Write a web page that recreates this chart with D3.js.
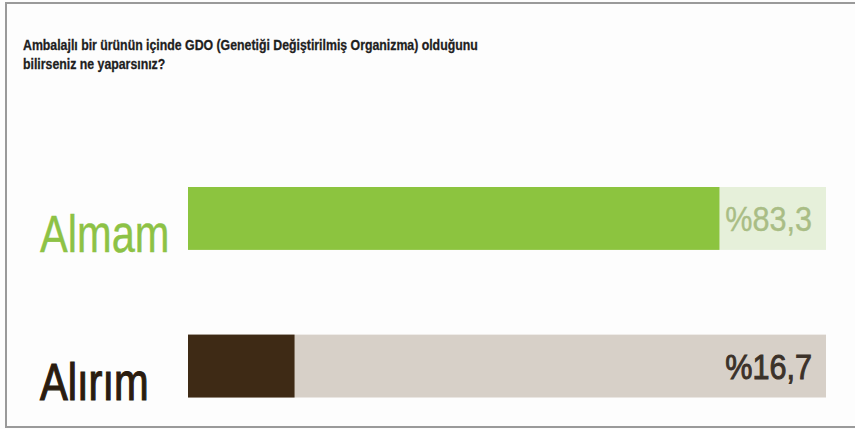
<!DOCTYPE html>
<html>
<head>
<meta charset="utf-8">
<script src="https://cdn.jsdelivr.net/npm/d3@7"></script>
<style>
  body { margin: 0; background: #fff; }
  svg { display: block; }
</style>
</head>
<body>
<div id="chart"></div>
<script>
var titleLines = [
    'Ambalajlı bir ürünün içinde GDO (Genetiği Değiştirilmiş Organizma) olduğunu',
    'bilirseniz ne yaparsınız?'
];
var categories = ['Almam', 'Alırım'];
var values = [83.3, 16.7];
var valueLabels = ['%83,3', '%16,7'];

var barColors = ['#8cc43f', '#3e2a15'];
var trackColors = ['#e6f0da', '#d7d0c8'];
var labelColors = ['#8dc245', '#2a1c0f'];
var valueColors = ['#a9bd85', '#3b3129'];

var width = 855;
var height = 429;

var svg = d3.select('#chart')
    .append('svg')
    .attr('width', width)
    .attr('height', height)
    .attr('viewBox', [0, 0, width, height]);

svg.append('rect')
    .attr('width', width)
    .attr('height', height)
    .attr('fill', '#fdfdfd');

// frame (top, left, bottom)
svg.append('path')
    .attr('d', 'M855,3H6V427H855')
    .attr('fill', 'none')
    .attr('stroke', '#9a9a9a')
    .attr('stroke-width', 2);

svg.append('g')
    .attr('transform', 'translate(23,0) scale(0.85,1)')
    .selectAll('text')
    .data(titleLines)
    .join('text')
    .attr('x', 0)
    .attr('y', (d, i) => 50 + i * 19)
    .attr('font-family', 'Liberation Sans, Arial, sans-serif')
    .attr('font-weight', 'bold')
    .attr('font-size', 14.5)
    .attr('fill', '#1e1e1e')
    .attr('stroke', '#1e1e1e')
    .attr('stroke-width', 0.3)
    .text(d => d);

var x = d3.scaleLinear()
    .domain([0, 100])
    .range([188, 826]);

var y = d3.scaleBand()
    .domain(categories)
    .range([187, 397.5])
    .paddingInner(0.574)
    .paddingOuter(0);

var rows = svg.append('g')
    .selectAll('g')
    .data(categories)
    .join('g');

rows.append('rect')
    .attr('x', x(0))
    .attr('y', d => y(d))
    .attr('width', x(100) - x(0))
    .attr('height', y.bandwidth())
    .attr('fill', (d, i) => trackColors[i]);

rows.append('rect')
    .attr('x', x(0))
    .attr('y', d => y(d))
    .attr('width', (d, i) => x(values[i]) - x(0))
    .attr('height', y.bandwidth())
    .attr('fill', (d, i) => barColors[i]);

rows.append('text')
    .attr('transform', d => `translate(40,${y(d) + y.bandwidth() + 2}) scale(0.8,1)`)
    .attr('font-family', 'Liberation Sans, Arial, sans-serif')
    .attr('font-size', 52)
    .attr('fill', (d, i) => labelColors[i])
    .attr('stroke', (d, i) => labelColors[i])
    .attr('stroke-width', (d, i) => i ? 1.2 : 0.4)
    .text(d => d);

rows.append('text')
    .attr('transform', d => `translate(812,${y(d) + y.bandwidth() / 2 + 13}) scale(0.85,1)`)
    .attr('text-anchor', 'end')
    .attr('font-family', 'Liberation Sans, Arial, sans-serif')
    .attr('font-size', 36)
    .attr('fill', (d, i) => valueColors[i])
    .attr('stroke', (d, i) => valueColors[i])
    .attr('stroke-width', (d, i) => i ? 1 : 0.4)
    .text((d, i) => valueLabels[i]);
</script>
</body>
</html>
